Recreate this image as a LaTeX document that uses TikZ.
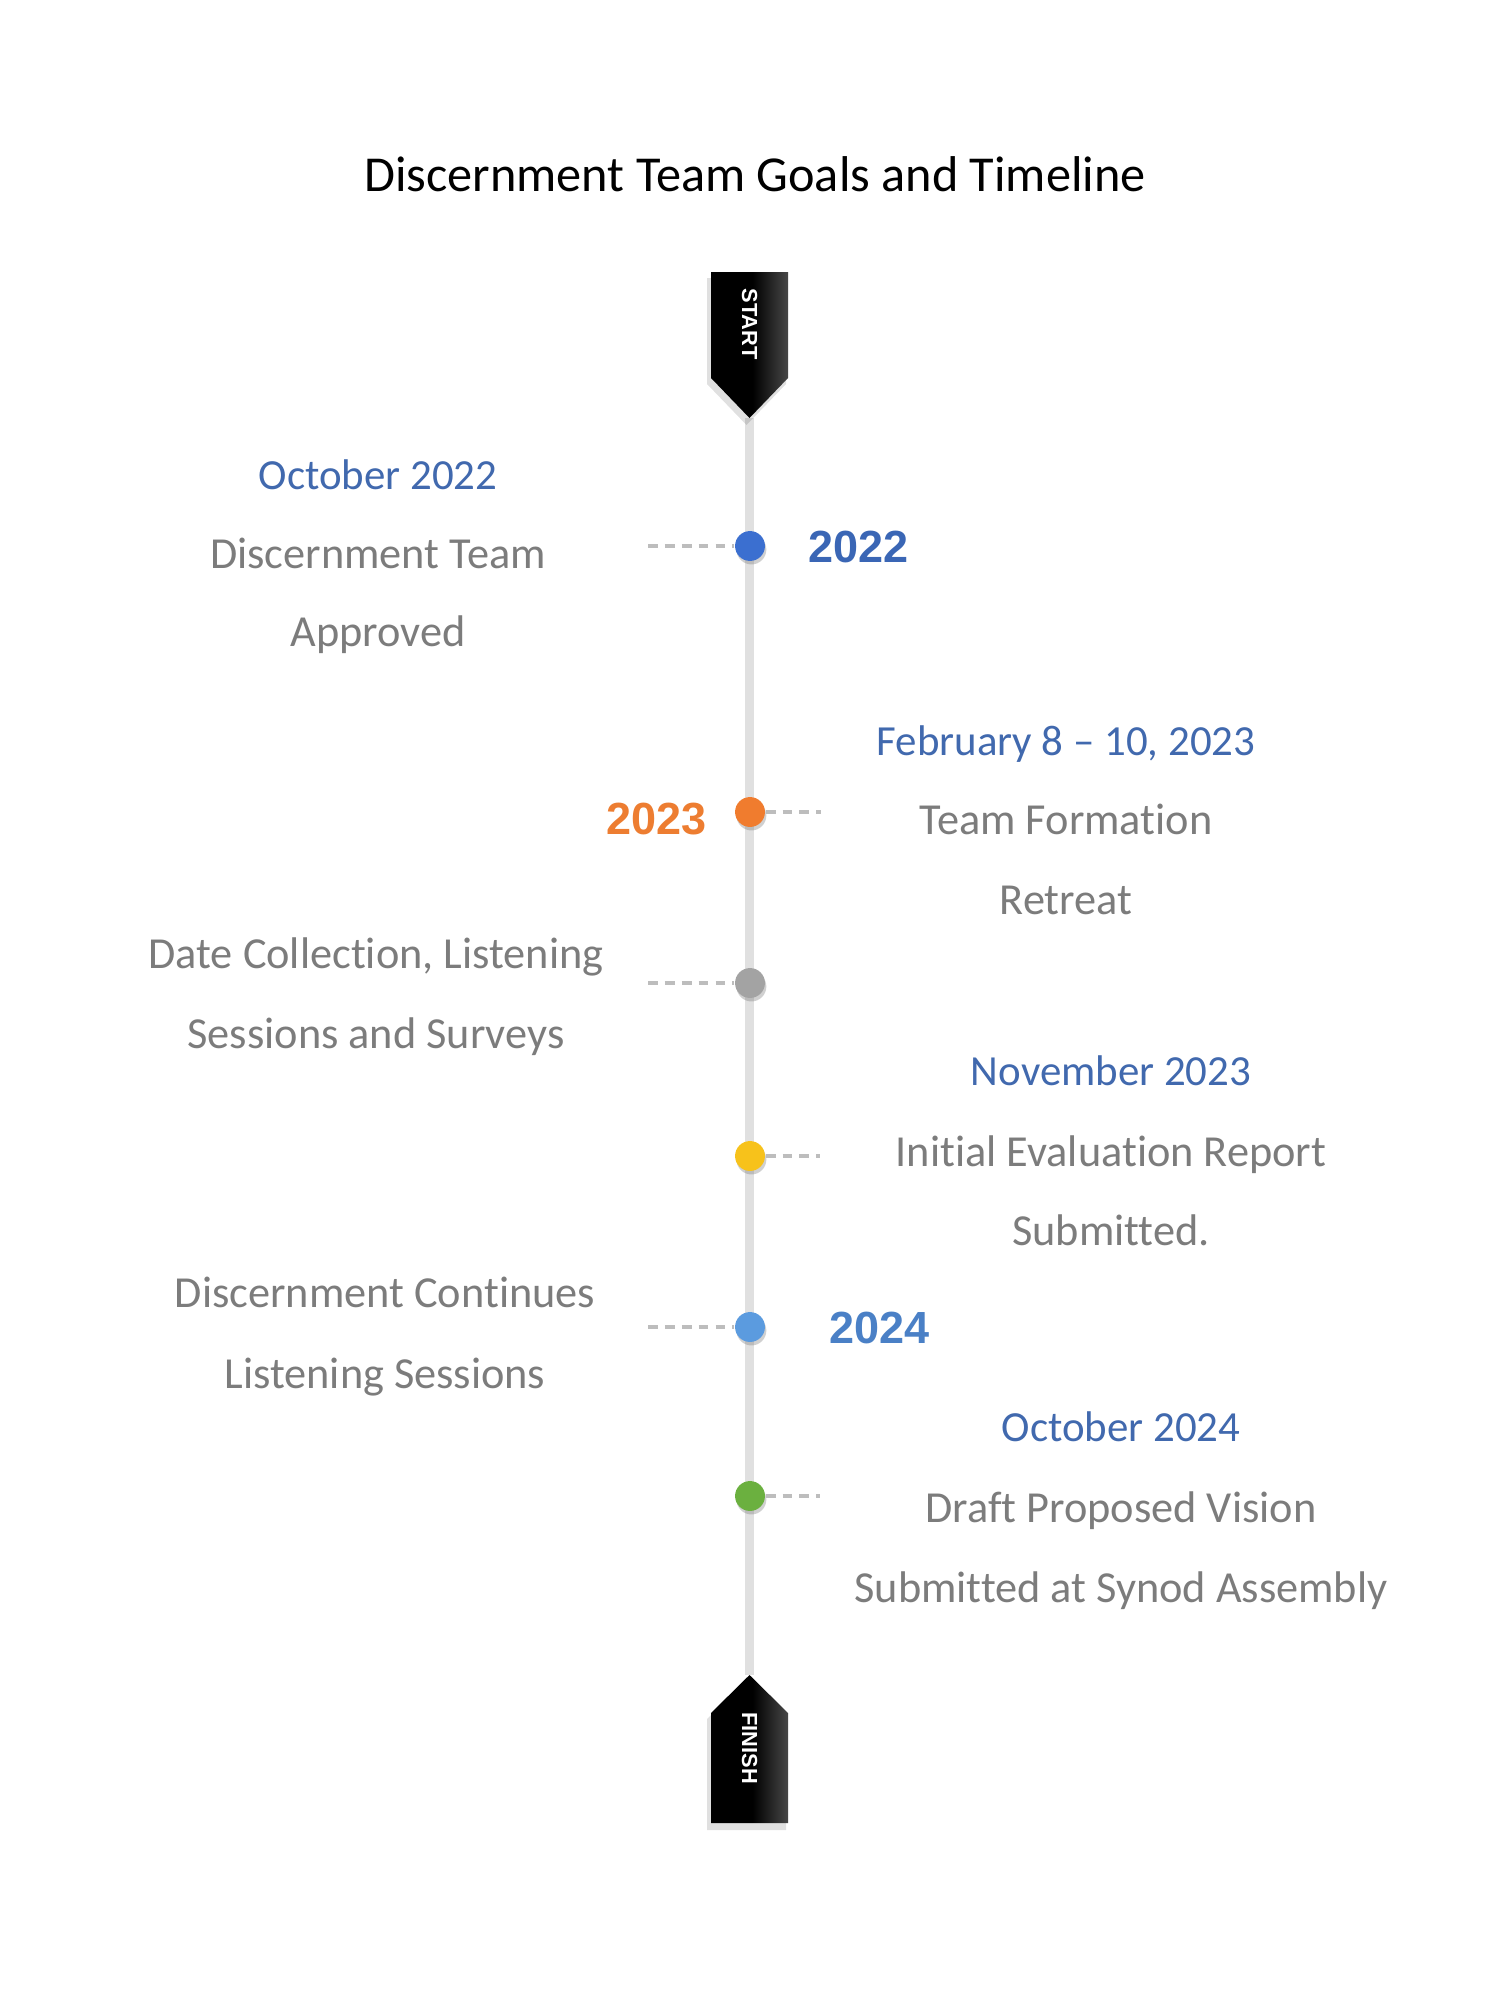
\documentclass[tikz,border=0pt]{standalone}
\usepackage{fontspec}
\setmainfont{Carlito}[Ligatures=NoCommon]
\newfontfamily\yearfont{Liberation Sans}
\usetikzlibrary{shadows}
\definecolor{datecol}{HTML}{4169AE}
\definecolor{txtgray}{HTML}{7C7C7C}
\definecolor{linegray}{HTML}{E0E0E0}
\definecolor{dashgray}{HTML}{BDBDBD}
\definecolor{dotblue}{HTML}{3B6FD0}
\definecolor{yearblue}{HTML}{3A66B5}
\definecolor{dotorange}{HTML}{F07C2E}
\definecolor{yearorange}{HTML}{ED7D31}
\definecolor{dotgray}{HTML}{A3A3A3}
\definecolor{dotyellow}{HTML}{F7C21B}
\definecolor{dotlblue}{HTML}{5B9BDF}
\definecolor{yearlblue}{HTML}{4A80C6}
\definecolor{dotgreen}{HTML}{6BB03F}
\pgfdeclarehorizontalshading{markershade}{100bp}{color(0bp)=(black); color(25bp)=(black); color(52bp)=(black); color(75bp)=(black!72); color(100bp)=(black!72)}
\tikzset{
  datetxt/.style={anchor=base, inner sep=0pt, text=datecol, font=\fontsize{12.2}{14}\selectfont},
  bodytxt/.style={anchor=base, inner sep=0pt, text=txtgray, font=\fontsize{12.6}{15}\selectfont},
  yeartxt/.style={inner sep=0pt, font=\yearfont\bfseries\fontsize{12.8}{15}\selectfont},
  markertxt/.style={inner sep=0pt, text=white, rotate=-90, font=\yearfont\bfseries\fontsize{6.2}{7}\selectfont},
  tldot/.style={circle, inner sep=0pt, minimum size=8.5pt, draw=none,
     drop shadow={shadow xshift=0.4pt, shadow yshift=-1pt, opacity=0.3, fill=black!60}},
  dashlink/.style={draw=dashgray, line width=1.1pt, dash pattern=on 2.8pt off 2pt},
  spine/.style={draw=linegray, line width=2.3pt},
  markershadow/.style={fill=black, opacity=0.12}
}
\begin{document}
\begin{tikzpicture}[x=0.01cm, y=-0.01cm]
\useasboundingbox[fill=white] (0,0) rectangle (1500,2000);

% title
\node[anchor=base, inner sep=0pt, font=\fontsize{14.3}{17}\selectfont] (title) at (755,192) {Discernment Team Goals and Timeline};

% spine
\coordinate (starttip) at (749.5,418);
\coordinate (finishtip) at (749.5,1675);
\draw[spine] (starttip) -- (finishtip);

% start marker
\fill[markershadow] (707,278) -- (786,278) -- (786,384) -- (746.5,425) -- (707,384) -- cycle;
\shade[shading=markershade] (711,272) -- (788,272) -- (788,378) -- (749.5,418) -- (711,378) -- cycle;
\node[markertxt] (start) at (749.5,324) {START};

% finish marker
\fill[markershadow] (746.5,1681) -- (786,1719) -- (786,1830) -- (707,1830) -- (707,1719) -- cycle;
\shade[shading=markershade] (749.5,1675) -- (788,1713) -- (788,1823) -- (711,1823) -- (711,1713) -- cycle;
\node[markertxt] (finish) at (749.5,1748) {FINISH};

% dots
\node[tldot, fill=dotblue] (d1) at (750,546) {};
\node[tldot, fill=dotorange] (d2) at (750,812) {};
\node[tldot, fill=dotgray] (d3) at (750,983) {};
\node[tldot, fill=dotyellow] (d4) at (750,1156) {};
\node[tldot, fill=dotlblue] (d5) at (750,1327) {};
\node[tldot, fill=dotgreen] (d6) at (750,1496) {};

% dashed links
\coordinate (e1) at (648,546);
\coordinate (e2) at (821,812);
\coordinate (e3) at (648,983);
\coordinate (e4) at (820,1156);
\coordinate (e5) at (648,1327);
\coordinate (e6) at (820,1496);
\draw[dashlink] (e1) -- (d1.west);
\draw[dashlink] (d2.east) -- (e2);
\draw[dashlink] (e3) -- (d3.west);
\draw[dashlink] (d4.east) -- (e4);
\draw[dashlink] (e5) -- (d5.west);
\draw[dashlink] (d6.east) -- (e6);

% year labels
\node[yeartxt, anchor=base west, text=yearblue] (y1) at (808,562) {2022};
\node[yeartxt, anchor=base east, text=yearorange] (y2) at (707,834) {2023};
\node[yeartxt, anchor=base west, text=yearlblue] (y3) at (829,1343) {2024};

% block 1
\node[datetxt] (t1a) at (378,489) {October 2022};
\node[bodytxt] (t1b) at (378,568) {Discernment Team};
\node[bodytxt] (t1c) at (378,646) {Approved};

% block 2
\node[datetxt] (t2a) at (1066,755) {February 8 – 10, 2023};
\node[bodytxt] (t2b) at (1066,834) {Team Formation};
\node[bodytxt] (t2c) at (1066,914) {Retreat};

% block 3
\node[bodytxt] (t3a) at (376,968) {Date Collection, Listening};
\node[bodytxt] (t3b) at (376,1048) {Sessions and Surveys};

% block 4
\node[datetxt] (t4a) at (1111,1085) {November 2023};
\node[bodytxt] (t4b) at (1111,1166) {Initial Evaluation Report};
\node[bodytxt] (t4c) at (1111,1245) {Submitted.};

% block 5
\node[bodytxt] (t5a) at (385,1307) {Discernment Continues};
\node[bodytxt] (t5b) at (385,1388) {Listening Sessions};

% block 6
\node[datetxt] (t6a) at (1121,1441) {October 2024};
\node[bodytxt] (t6b) at (1121,1522) {Draft Proposed Vision};
\node[bodytxt] (t6c) at (1121,1602) {Submitted at Synod Assembly};
\end{tikzpicture}
\end{document}
